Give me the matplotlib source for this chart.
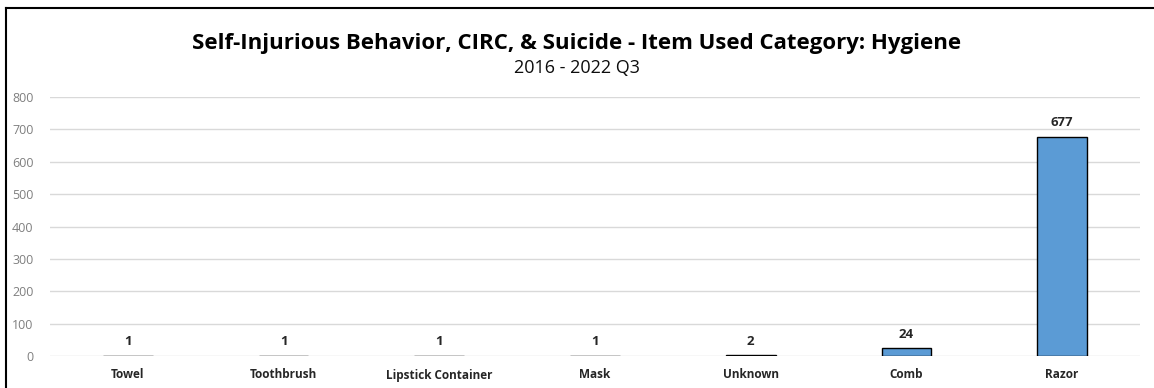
import matplotlib.pyplot as plt
from matplotlib.lines import Line2D

# data
items = ['Towel', 'Toothbrush', 'Lipstick Container', 'Mask', 'Unknown', 'Comb', 'Razor']
counts = [1, 1, 1, 1, 2, 24, 677]
yticks = [0, 100, 200, 300, 400, 500, 600, 700, 800]

plt.rcParams['font.family'] = ['Open Sans', 'DejaVu Sans']

fig = plt.figure(figsize=(11.54, 3.88), dpi=100)
ax = fig.add_axes([50/1154, 1 - 356/388, 1090/1154, 259/388])

x = list(range(len(items)))
ax.bar(x, counts, width=0.32, color='#5B9BD5', edgecolor='black', linewidth=1.0, zorder=3)
for xi, c in zip(x, counts):
    ax.annotate(str(c), (xi, c), xytext=(0, 14), textcoords='offset pixels',
                ha='center', va='center', fontsize=9.5, fontweight='bold', color='#262626')

ax.set_xlim(-0.5, len(items) - 0.5)
ax.set_ylim(0, 800)
ax.set_yticks(yticks)
ax.set_yticklabels([str(v) for v in yticks], fontsize=9, color='#7F7F7F')
ax.set_xticks(x)
ax.set_xticklabels(items, fontsize=8.5, fontweight='bold', color='#262626')
ax.tick_params(axis='both', length=0)
ax.tick_params(axis='y', pad=12)
ax.tick_params(axis='x', pad=9)
ax.grid(axis='y', color='#D9D9D9', linewidth=1.0, zorder=0)
for s in ax.spines.values():
    s.set_visible(False)

fig.text(0.5, 1 - 44/388, 'Self-Injurious Behavior, CIRC, & Suicide - Item Used Category: Hygiene',
         ha='center', va='center', fontsize=16, fontweight='bold', color='black')
fig.text(0.5, 1 - 68/388, '2016 - 2022 Q3', ha='center', va='center', fontsize=13, color='#0D0D0D')

# outer frame (top and left edges visible)
fig.add_artist(Line2D([6/1154, 1], [1 - 8/388, 1 - 8/388], color='black', linewidth=1.5))
fig.add_artist(Line2D([6/1154, 6/1154], [0, 1 - 8/388], color='black', linewidth=1.5))

fig.savefig('out.png', dpi=100)
